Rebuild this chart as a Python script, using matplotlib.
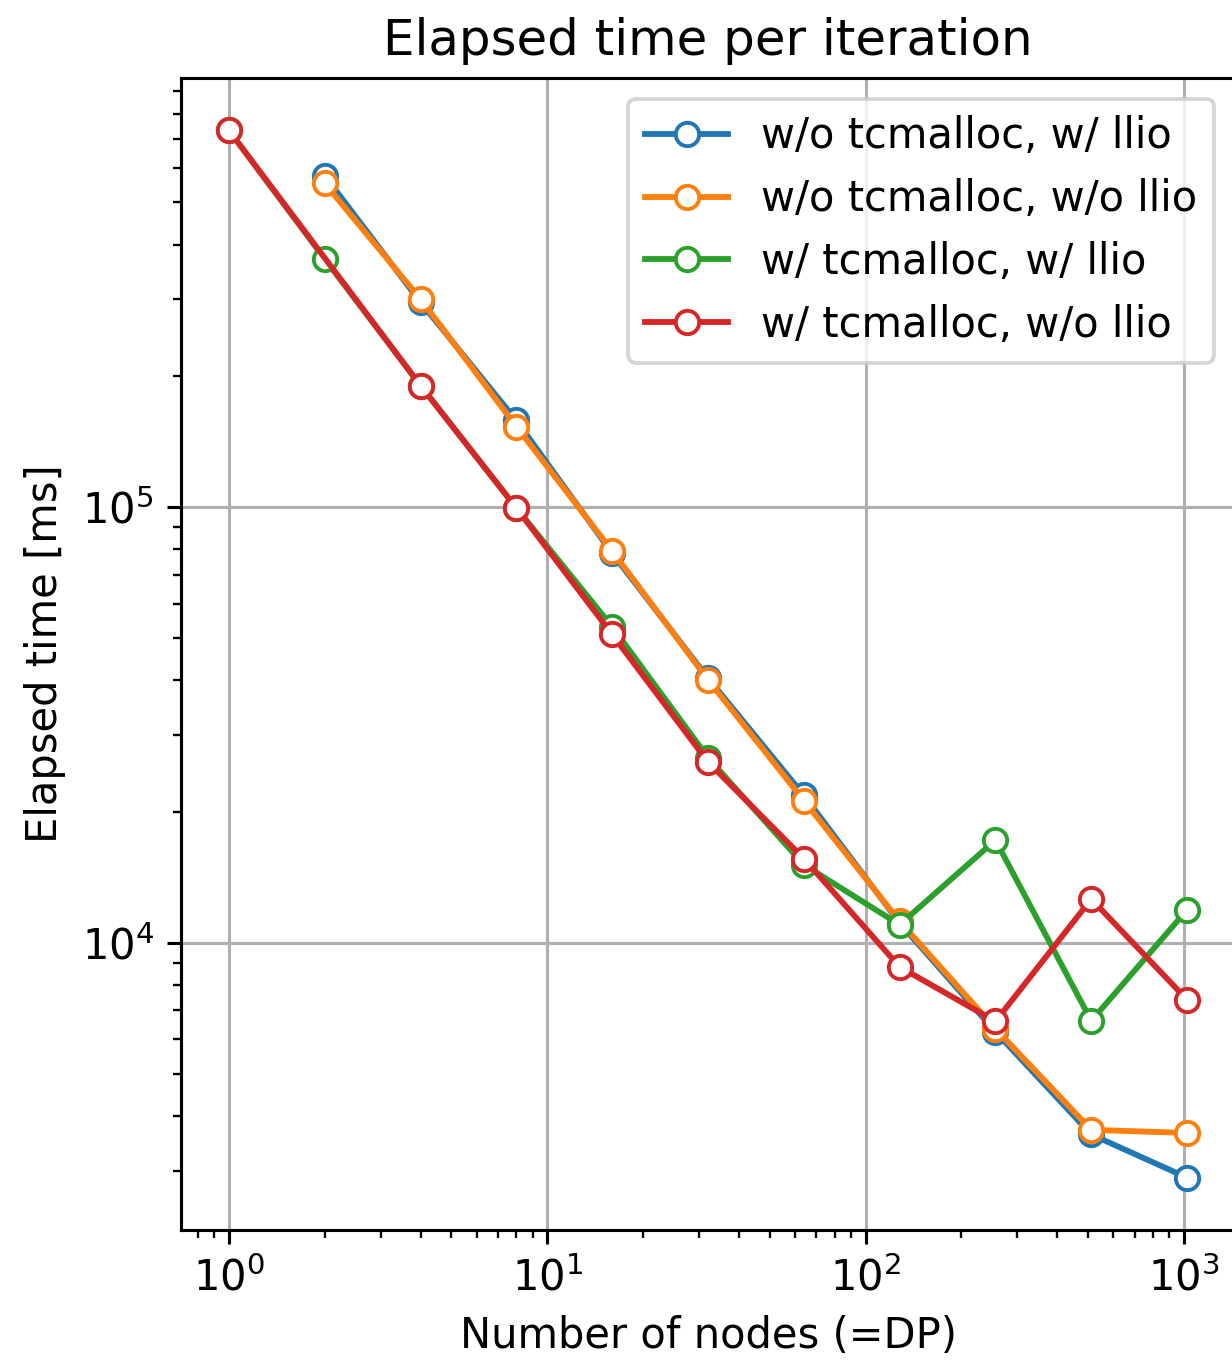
import numpy as np
import matplotlib.pyplot as plt

# number of nodes (=DP)
nodes_all = [1, 2, 4, 8, 16, 32, 64, 128, 256, 512, 1024]
nodes_from2 = [2, 4, 8, 16, 32, 64, 128, 256, 512, 1024]
nodes_red = [1, 4, 8, 16, 32, 64, 128, 256, 512, 1024]

# elapsed time per iteration [ms]
wo_tc_w_llio = [576000, 295000, 158000, 78300, 40500, 21800, 11100, 6250, 3630, 2890]
wo_tc_wo_llio = [553000, 300000, 153000, 79300, 40100, 21200, 11200, 6350, 3720, 3660]
w_tc_w_llio = [732000, 371000, 190000, 99500, 53100, 26600, 15100, 11000, 17200, 6620, 11900]
w_tc_wo_llio = [732000, 190000, 99500, 51000, 26000, 15600, 8800, 6600, 12600, 7400]

DPI = 280

plt.rcParams['font.size'] = 10.7

fig = plt.figure(figsize=(1232 / DPI, 1360 / DPI), dpi=DPI)
ax = fig.add_axes([181 / 1232, 130 / 1360, 1054 / 1232, 1152 / 1360])

ax.plot(nodes_from2, wo_tc_w_llio, marker='o', mfc='white', label='w/o tcmalloc, w/ llio')
ax.plot(nodes_from2, wo_tc_wo_llio, marker='o', mfc='white', label='w/o tcmalloc, w/o llio')
ax.plot(nodes_all, w_tc_w_llio, marker='o', mfc='white', label='w/ tcmalloc, w/ llio')
ax.plot(nodes_red, w_tc_wo_llio, marker='o', mfc='white', label='w/ tcmalloc, w/o llio')

ax.set_xscale('log')
ax.set_yscale('log')
ax.grid(True)
ax.set_title('Elapsed time per iteration')
ax.set_xlabel('Number of nodes (=DP)')
ax.set_ylabel('Elapsed time [ms]')
ax.legend(loc='upper right')

fig.savefig('out.png', dpi=DPI)
